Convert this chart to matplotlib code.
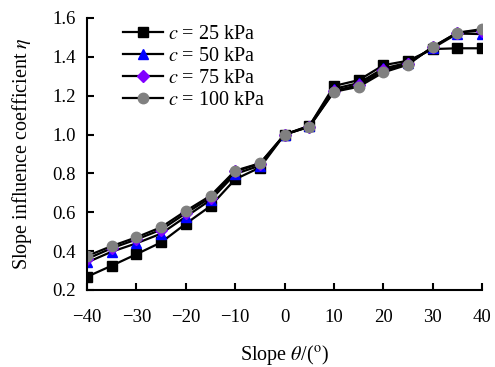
import matplotlib
matplotlib.use("Agg")
import matplotlib.pyplot as plt

plt.rcParams["font.family"] = "Liberation Serif"
plt.rcParams["mathtext.fontset"] = "stix"
plt.rcParams["font.size"] = 14.5

slope = [-40, -35, -30, -25, -20, -15, -10, -5, 0, 5, 10, 15, 20, 25, 30, 35, 40]
eta_c25 = [0.268, 0.325, 0.384, 0.445, 0.541, 0.632, 0.770, 0.830, 1.0, 1.044,
           1.250, 1.280, 1.357, 1.380, 1.440, 1.444, 1.444]
eta_c50 = [0.342, 0.397, 0.440, 0.490, 0.577, 0.663, 0.797, 0.840, 1.0, 1.045,
           1.235, 1.265, 1.340, 1.370, 1.445, 1.520, 1.517]
eta_c75 = [0.360, 0.415, 0.460, 0.510, 0.595, 0.675, 0.810, 0.850, 1.0, 1.040,
           1.225, 1.255, 1.330, 1.365, 1.450, 1.525, 1.535]
eta_c100 = [0.375, 0.426, 0.471, 0.523, 0.607, 0.685, 0.814, 0.852, 1.0, 1.040,
            1.220, 1.246, 1.320, 1.360, 1.452, 1.524, 1.543]
labels = ["$c$ = 25 kPa", "$c$ = 50 kPa", "$c$ = 75 kPa", "$c$ = 100 kPa"]

fig = plt.figure(figsize=(4.95, 3.67), dpi=100)
ax = fig.add_axes([0.176, 0.210, 0.798, 0.741])

ax.plot(slope, eta_c25, "-s", color="black", mfc="black", mec="black", ms=7, lw=1.6, label=labels[0])
ax.plot(slope, eta_c50, "-^", color="black", mfc="#0000FF", mec="#0000FF", ms=7, lw=1.6, label=labels[1])
ax.plot(slope, eta_c75, "-D", color="black", mfc="#8000FF", mec="#8000FF", ms=6, lw=1.6, label=labels[2])
ax.plot(slope, eta_c100, "-o", color="black", mfc="#808080", mec="#808080", ms=7.5, lw=1.6, label=labels[3])

ax.set_xlim(-40, 40)
ax.set_ylim(0.2, 1.6)
ax.set_xticks(range(-40, 41, 10))
ax.set_yticks([0.2, 0.4, 0.6, 0.8, 1.0, 1.2, 1.4, 1.6])
ax.set_yticklabels(["0.2", "0.4", "0.6", "0.8", "1.0", "1.2", "1.4", "1.6"])
ax.tick_params(direction="in", length=5, width=1.5, labelsize=13.5)
ax.tick_params(axis="x", pad=14)
ax.tick_params(axis="y", pad=8)
for s in ["top", "right"]:
    ax.spines[s].set_visible(False)
for s in ["left", "bottom"]:
    ax.spines[s].set_linewidth(1.5)

ax.set_xlabel(r"Slope $\theta$/($^{\rm o}$)", labelpad=12)
ax.set_ylabel(r"Slope influence coefficient $\eta$", labelpad=13)

ax.legend(loc="upper left", bbox_to_anchor=(0.07, 1.005), frameon=False,
          handlelength=2.0, handletextpad=0.25, labelspacing=0.15, borderaxespad=0)

fig.savefig("out.png", dpi=100)
